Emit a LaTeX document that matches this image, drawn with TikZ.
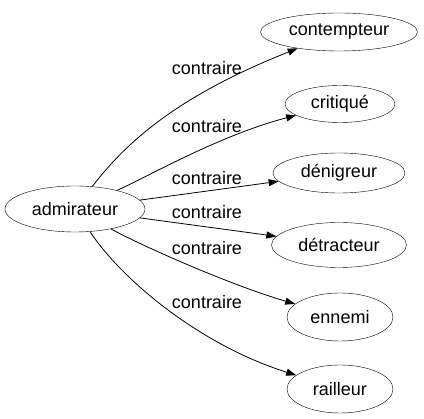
\documentclass[tikz,border=0pt]{standalone}
\usepackage{fontspec}
\setmainfont{Liberation Sans}
\usetikzlibrary{shapes.geometric,arrows.meta}
\begin{document}
\begin{tikzpicture}[x=1pt,y=-1pt,
  word/.style={draw,ellipse,inner sep=0pt,font=\fontsize{18}{20}\selectfont},
  rel/.style={font=\fontsize{18}{20}\selectfont,inner sep=0pt},
  edge/.style={draw,line width=0.8pt,-{Triangle[length=10pt,width=7pt]}}]
\useasboundingbox (0,0) rectangle (424,419);
\node[word,minimum width=140pt,minimum height=46pt] (a) at (75,209) {admirateur};
\node[word,minimum width=157pt,minimum height=38pt] (b1) at (339,32) {contempteur};
\node[word,minimum width=110pt,minimum height=37pt] (b2) at (340,104) {critiqué};
\node[word,minimum width=132pt,minimum height=40pt] (b3) at (339,173) {dénigreur};
\node[word,minimum width=135pt,minimum height=45pt] (b4) at (339,245) {détracteur};
\node[word,minimum width=106pt,minimum height=48pt] (b5) at (340,317) {ennemi};
\node[word,minimum width=106pt,minimum height=48pt] (b6) at (340,389) {railleur};
\node[rel] (l1) at (207,68) {contraire};
\node[rel] (l2) at (207,126) {contraire};
\node[rel] (l3) at (207,178) {contraire};
\node[rel] (l4) at (207,212) {contraire};
\node[rel] (l5) at (207,248) {contraire};
\node[rel] (l6) at (207,302) {contraire};
\draw[edge] (a) .. controls (128,140) and (180,95) .. (b1);
\draw[edge] (a) .. controls (145,178) and (220,135) .. (b2);
\draw[edge] (a) .. controls (170,196) and (230,188) .. (b3);
\draw[edge] (a) .. controls (170,222) and (230,230) .. (b4);
\draw[edge] (a) .. controls (140,245) and (230,285) .. (b5);
\draw[edge] (a) .. controls (122,280) and (200,345) .. (b6);
\end{tikzpicture}
\end{document}
